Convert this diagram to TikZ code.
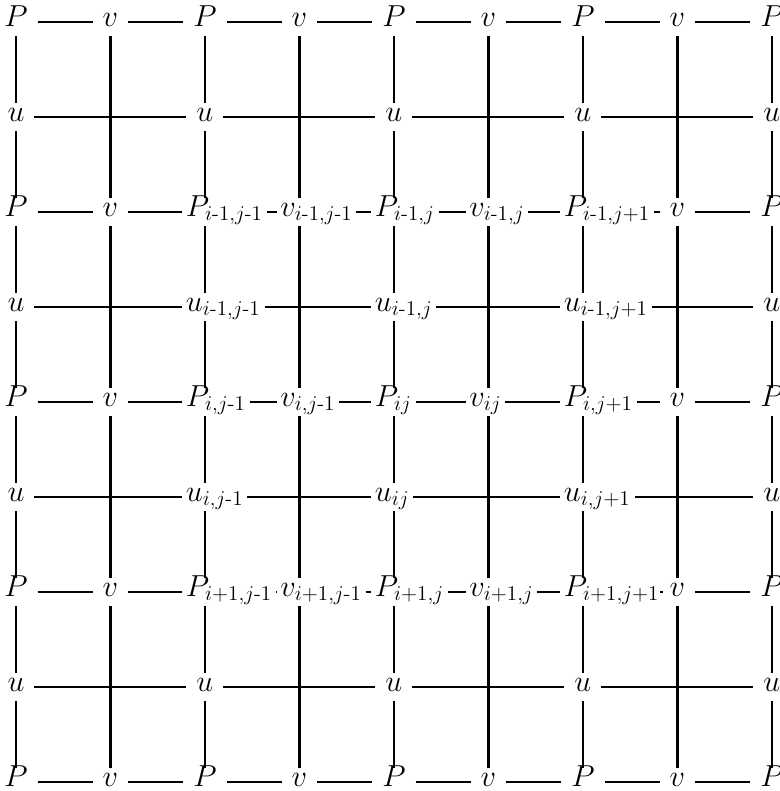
\documentclass[tikz,border=0pt]{standalone}
\usepackage{amsmath}
\usepackage{tikz}
\newcommand{\hy}{\text{-}}

\begin{document}
\begin{tikzpicture}[x=1.89cm,y=-1.9cm,line width=1.4pt,
  lbl/.style={font=\LARGE,inner xsep=5pt,inner ysep=3pt,text height=0.7em,text depth=0.2em},
  idx/.style={lbl,inner xsep=1.5pt,anchor=west,xshift=-13pt}
]
  \useasboundingbox (-0.169,-0.232) rectangle (8.085,8.095);
  \foreach \c in {0,...,8} \coordinate (col\c) at (\c,0);

  % outer ring of the grid
  \foreach \r in {0,8} {
    \foreach \c in {0,2,...,8} \node[lbl] (n-\r-\c) at (\c,\r) {$P$};
    \foreach \c in {1,3,...,7} \node[lbl] (n-\r-\c) at (\c,\r) {$v$};
  }
  \foreach \r in {1,7} \foreach \c in {0,2,...,8} \node[lbl] (n-\r-\c) at (\c,\r) {$u$};
  \foreach \r in {2,4,6} {
    \foreach \c in {0,8} \node[lbl] (n-\r-\c) at (\c,\r) {$P$};
    \foreach \c in {1,7} \node[lbl] (n-\r-\c) at (\c,\r) {$v$};
  }
  \foreach \r in {3,5} \foreach \c in {0,8} \node[lbl] (n-\r-\c) at (\c,\r) {$u$};

  % indexed cells
  \node[idx] (n-2-2) at (2,2) {$P_{i\hy1,j\hy1}$};
  \node[idx] (n-2-3) at (3,2) {$v_{i\hy1,j\hy1}$};
  \node[idx] (n-2-4) at (4,2) {$P_{i\hy1,j}$};
  \node[idx] (n-2-5) at (5,2) {$v_{i\hy1,j}$};
  \node[idx] (n-2-6) at (6,2) {$P_{i\hy1,j+1}$};
  \node[idx] (n-3-2) at (2,3) {$u_{i\hy1,j\hy1}$};
  \node[idx] (n-3-4) at (4,3) {$u_{i\hy1,j}$};
  \node[idx] (n-3-6) at (6,3) {$u_{i\hy1,j+1}$};
  \node[idx] (n-4-2) at (2,4) {$P_{i,j\hy1}$};
  \node[idx] (n-4-3) at (3,4) {$v_{i,j\hy1}$};
  \node[idx] (n-4-4) at (4,4) {$P_{ij}$};
  \node[idx] (n-4-5) at (5,4) {$v_{ij}$};
  \node[idx] (n-4-6) at (6,4) {$P_{i,j+1}$};
  \node[idx] (n-5-2) at (2,5) {$u_{i,j\hy1}$};
  \node[idx] (n-5-4) at (4,5) {$u_{ij}$};
  \node[idx] (n-5-6) at (6,5) {$u_{i,j+1}$};
  \node[idx] (n-6-2) at (2,6) {$P_{i+1,j\hy1}$};
  \node[idx] (n-6-3) at (3,6) {$v_{i+1,j\hy1}$};
  \node[idx] (n-6-4) at (4,6) {$P_{i+1,j}$};
  \node[idx] (n-6-5) at (5,6) {$v_{i+1,j}$};
  \node[idx] (n-6-6) at (6,6) {$P_{i+1,j+1}$};

  % horizontal links
  \foreach \r in {0,2,...,8}
    \foreach \c in {0,...,7} {
      \pgfmathtruncatemacro\nc{\c+1}
      \draw (n-\r-\c) -- (n-\r-\nc);
    }
  \foreach \r in {1,3,...,7}
    \foreach \c in {0,2,...,6} {
      \pgfmathtruncatemacro\nc{\c+2}
      \draw (n-\r-\c) -- (n-\r-\nc);
    }
  % vertical links
  \foreach \c in {0,2,...,8}
    \foreach \r in {0,...,7} {
      \pgfmathtruncatemacro\nr{\r+1}
      \draw (n-\r-\c.south -| col\c) -- (n-\nr-\c.north -| col\c);
    }
  \foreach \c in {1,3,...,7}
    \foreach \r in {0,2,...,6} {
      \pgfmathtruncatemacro\nr{\r+2}
      \draw (n-\r-\c.south -| col\c) -- (n-\nr-\c.north -| col\c);
    }
\end{tikzpicture}
\end{document}
